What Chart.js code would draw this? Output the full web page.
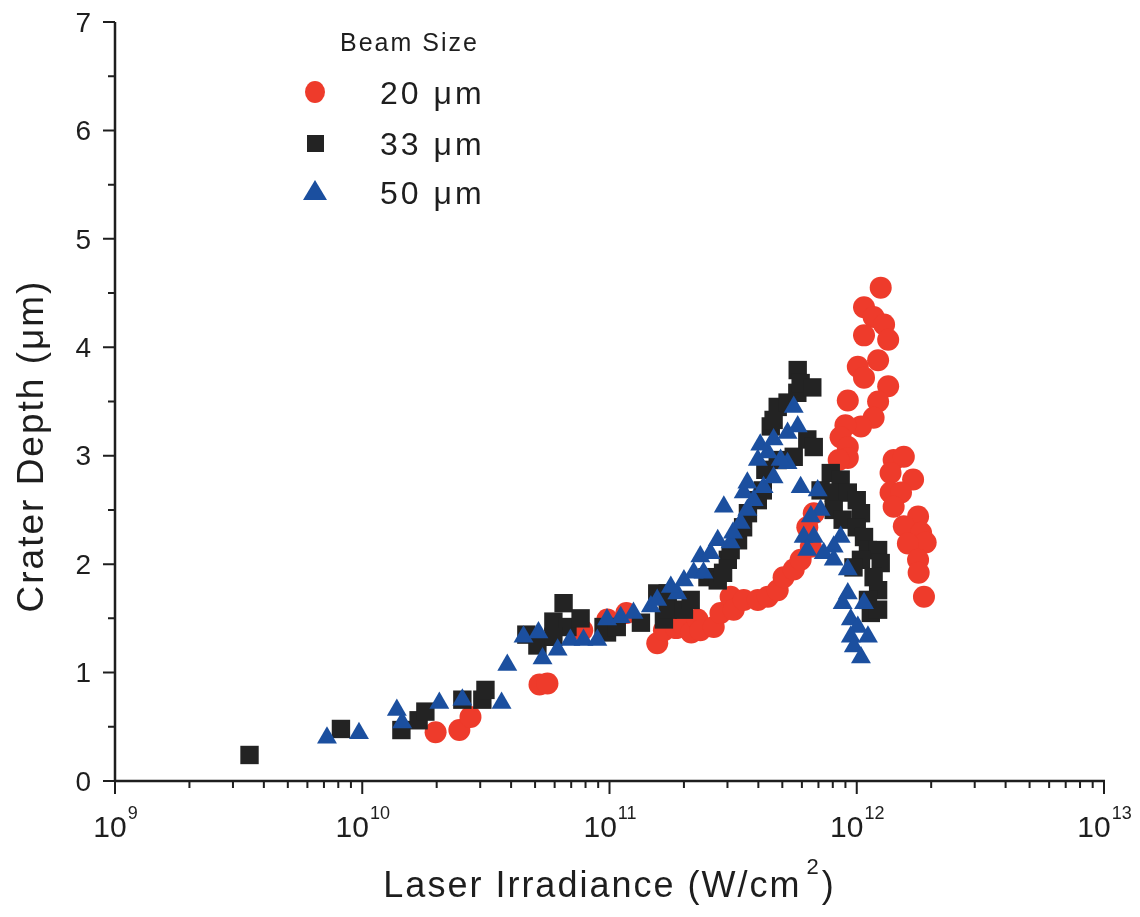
<!DOCTYPE html>
<html>
<head>
<meta charset="utf-8">
<script src="https://cdn.jsdelivr.net/npm/chart.js@4.4.1/dist/chart.umd.min.js"></script>
<style>
  html, body { margin: 0; padding: 0; background: #ffffff; }
  #wrap { width: 1140px; height: 917px; position: relative; }
</style>
</head>
<body>
<div id="wrap"><canvas id="c" width="1140" height="917"></canvas></div>
<script>
// Crater depth (µm) versus laser irradiance (W/cm²) for three beam sizes.
const beam20X = [1.98e10, 2.47e10, 2.74e10, 5.21e10, 5.61e10, 7.76e10, 9.8e10, 1.17e11, 1.56e11, 1.66e11,
  1.86e11, 1.94e11, 2.14e11, 2.27e11, 2.33e11, 2.64e11, 2.81e11, 3.09e11, 3.18e11, 3.49e11,
  3.98e11, 4.37e11, 4.79e11, 5.06e11, 5.56e11, 5.93e11, 6.52e11, 6.31e11, 6.70e11,
  1.25e12, 1.07e12, 1.17e12, 1.29e12, 1.07e12, 1.34e12, 1.22e12, 1.01e12, 1.07e12, 1.34e12,
  1.22e12, 9.2e11, 1.17e12, 1.04e12, 9.0e11, 8.6e11, 9.2e11, 9.2e11, 8.45e11,
  1.41e12, 1.55e12, 1.37e12, 1.69e12, 1.37e12, 1.51e12, 1.41e12, 1.77e12, 1.55e12, 1.82e12,
  1.90e12, 1.61e12, 1.77e12, 1.78e12, 1.87e12];
const beam20Y = [0.45, 0.47, 0.59, 0.89, 0.90, 1.39, 1.49, 1.55, 1.27, 1.39,
  1.41, 1.46, 1.37, 1.49, 1.39, 1.42, 1.55, 1.70, 1.58, 1.67,
  1.67, 1.70, 1.76, 1.88, 1.95, 2.04, 2.16, 2.34, 2.47,
  4.55, 4.37, 4.28, 4.21, 4.11, 4.07, 3.88, 3.82, 3.72, 3.64,
  3.50, 3.51, 3.35, 3.27, 3.28, 3.17, 3.08, 2.98, 2.96,
  2.96, 2.99, 2.84, 2.78, 2.66, 2.66, 2.53, 2.44, 2.35, 2.29,
  2.20, 2.19, 2.04, 1.92, 1.70];

const beam33X = [3.5e9, 8.2e9, 1.44e10, 1.69e10, 1.80e10, 2.54e10, 3.06e10, 3.15e10, 4.61e10, 5.11e10,
  5.93e10, 6.52e10, 6.76e10, 7.64e10, 5.93e10, 9.46e10, 9.77e10, 1.07e11, 1.34e11, 1.56e11,
  1.72e11, 1.66e11, 1.72e11, 2.0e11, 2.13e11, 2.49e11, 2.74e11, 2.88e11, 3.01e11, 3.09e11,
  3.31e11, 3.47e11, 3.63e11, 3.98e11, 4.17e11, 4.27e11, 4.79e11, 5.56e11, 4.49e11, 4.61e11,
  4.79e11, 5.25e11, 5.75e11, 5.77e11, 5.93e11, 6.61e11, 6.31e11, 6.70e11,
  7.85e11, 8.61e11, 7.14e11, 8.07e11, 9.2e11, 1.0e12, 8.07e11, 1.04e12, 8.77e11, 1.0e12,
  1.07e12, 1.11e12, 1.22e12, 1.04e12, 1.25e12, 9.7e11, 1.17e12, 1.22e12, 1.11e12, 1.14e12, 1.22e12];
const beam33Y = [0.24, 0.48, 0.47, 0.56, 0.64, 0.75, 0.75, 0.84, 1.35, 1.25,
  1.47, 1.64, 1.42, 1.50, 1.33, 1.42, 1.37, 1.42, 1.46, 1.73,
  1.73, 1.49, 1.58, 1.58, 1.67, 1.88, 1.85, 1.92, 2.04, 2.13,
  2.22, 2.34, 2.47, 2.59, 2.68, 2.87, 2.96, 2.99, 3.27, 3.33,
  3.45, 3.49, 3.58, 3.79, 3.67, 3.63, 3.15, 3.08,
  2.84, 2.78, 2.68, 2.66, 2.66, 2.59, 2.50, 2.47, 2.41, 2.34,
  2.25, 2.13, 2.13, 2.04, 2.01, 1.97, 1.88, 1.76, 1.67, 1.55, 1.58];

const beam50X = [7.2e9, 9.7e9, 1.38e10, 1.45e10, 2.05e10, 2.54e10, 3.66e10, 3.86e10, 4.49e10, 5.16e10,
  5.36e10, 6.17e10, 6.95e10, 7.85e10, 8.93e10, 9.77e10, 1.11e11, 1.25e11, 1.47e11, 1.56e11,
  1.88e11, 1.77e11, 2.0e11, 2.19e11, 2.40e11, 2.33e11, 2.56e11, 2.74e11, 3.09e11, 3.16e11,
  3.39e11, 2.90e11, 3.61e11, 3.83e11, 3.49e11, 3.61e11, 4.20e11, 4.61e11, 3.98e11, 5.25e11,
  4.92e11, 4.37e11, 4.07e11, 4.61e11, 5.25e11, 5.77e11, 5.56e11, 5.93e11,
  6.95e11, 7.14e11, 6.52e11, 6.10e11, 6.70e11, 8.61e11, 8.07e11, 6.31e11, 7.35e11, 8.07e11,
  9.2e11, 9.2e11, 8.77e11, 1.07e12, 9.46e11, 1.01e12, 9.46e11, 1.11e12, 9.73e11, 1.04e12];
const beam50Y = [0.40, 0.44, 0.655, 0.54, 0.72, 0.75, 0.72, 1.07, 1.33, 1.37,
  1.13, 1.21, 1.30, 1.30, 1.30, 1.49, 1.51, 1.55, 1.61, 1.67,
  1.73, 1.79, 1.85, 1.92, 1.92, 2.07, 2.10, 2.22, 2.20, 2.29,
  2.38, 2.53, 2.50, 2.59, 2.66, 2.75, 2.71, 2.80, 2.96, 2.93,
  2.96, 3.03, 3.10, 3.15, 3.21, 3.27, 3.45, 2.71,
  2.68, 2.50, 2.44, 2.25, 2.25, 2.25, 2.16, 2.13, 2.10, 2.04,
  1.95, 1.73, 1.64, 1.64, 1.49, 1.42, 1.33, 1.33, 1.24, 1.14];

const seriesLabels = ['20 μm', '33 μm', '50 μm'];
const legendTitle = 'Beam Size';
const xDecadeExponents = [9, 10, 11, 12, 13];
const xMinorMultipliers = [2, 3, 4, 5, 6, 7, 8, 9];
const yTickValues = [0, 1, 2, 3, 4, 5, 6, 7];
const yMinorValues = [0.5, 1.5, 2.5, 3.5, 4.5, 5.5, 6.5];
const xTitle = 'Laser Irradiance (W/cm';
const xTitleSup = '2';
const yTitle = 'Crater Depth (μm)';

const RED = '#ee3b2b';
const BLACK = '#232323';
const BLUE = '#1b4f9f';
const INK = '#1e1e1e';
const FONT = '"Liberation Sans", Arial, sans-serif';

function toPoints(xs, ys) { return xs.map((x, i) => ({ x: x, y: ys[i] })); }

const datasets = [
  { label: seriesLabels[0], data: toPoints(beam20X, beam20Y), pointStyle: 'circle', pointRadius: 11,
    backgroundColor: RED, borderColor: RED, borderWidth: 0, order: 3 },
  { label: seriesLabels[1], data: toPoints(beam33X, beam33Y), pointStyle: 'rect', pointRadius: 13,
    backgroundColor: BLACK, borderColor: BLACK, borderWidth: 0, order: 2 },
  { label: seriesLabels[2], data: toPoints(beam50X, beam50Y), pointStyle: 'triangle', pointRadius: 11.5,
    backgroundColor: BLUE, borderColor: BLUE, borderWidth: 0, order: 1 }
];

function setSpacing(ctx, px) { if ('letterSpacing' in ctx) ctx.letterSpacing = px + 'px'; }

// Axis lines, tick marks, tick labels, titles and the in-plot legend.
const axesPlugin = {
  id: 'axesDecor',
  afterDraw(chart) {
    const ctx = chart.ctx;
    const xs = chart.scales.x, ys = chart.scales.y;
    const left = chart.chartArea.left, right = chart.chartArea.right;
    const top = chart.chartArea.top, bottom = chart.chartArea.bottom;
    ctx.save();
    ctx.strokeStyle = INK;
    ctx.fillStyle = INK;
    ctx.lineCap = 'butt';

    // axis lines
    ctx.lineWidth = 2.5;
    ctx.beginPath();
    ctx.moveTo(left, top);
    ctx.lineTo(left, bottom + 1);
    ctx.moveTo(left - 1, bottom);
    ctx.lineTo(right + 1, bottom);
    ctx.stroke();

    // y ticks
    ctx.lineWidth = 2;
    ctx.beginPath();
    yTickValues.forEach(v => { const p = ys.getPixelForValue(v); ctx.moveTo(left - 12, p); ctx.lineTo(left, p); });
    yMinorValues.forEach(v => { const p = ys.getPixelForValue(v); ctx.moveTo(left - 7, p); ctx.lineTo(left, p); });
    ctx.stroke();
    ctx.font = '28px ' + FONT;
    ctx.textAlign = 'right';
    ctx.textBaseline = 'middle';
    yTickValues.forEach(v => ctx.fillText(String(v), left - 24, ys.getPixelForValue(v) + 2));

    // x ticks
    ctx.beginPath();
    xDecadeExponents.forEach((e, i) => {
      const p = xs.getPixelForValue(Math.pow(10, e));
      ctx.moveTo(p, bottom); ctx.lineTo(p, bottom + 13);
      if (i < xDecadeExponents.length - 1) {
        xMinorMultipliers.forEach(m => {
          const q = xs.getPixelForValue(m * Math.pow(10, e));
          ctx.moveTo(q, bottom); ctx.lineTo(q, bottom + 7);
        });
      }
    });
    ctx.stroke();

    // x tick labels: 10 with raised exponent
    ctx.textBaseline = 'alphabetic';
    ctx.textAlign = 'left';
    xDecadeExponents.forEach(e => {
      const p = xs.getPixelForValue(Math.pow(10, e));
      ctx.font = '30px ' + FONT;
      const wBase = ctx.measureText('10').width;
      ctx.font = '18px ' + FONT;
      const wExp = ctx.measureText(String(e)).width;
      const x0 = p - (wBase + wExp) / 2;
      ctx.font = '30px ' + FONT;
      ctx.fillText('10', x0, 837);
      ctx.font = '18px ' + FONT;
      ctx.fillText(String(e), x0 + wBase + 1, 819);
    });

    // x title
    setSpacing(ctx, 2);
    ctx.font = '36px ' + FONT;
    const wT = ctx.measureText(xTitle).width;
    ctx.font = '22px ' + FONT;
    const wS = ctx.measureText(xTitleSup).width;
    ctx.font = '36px ' + FONT;
    const wP = ctx.measureText(')').width;
    const cx = (left + right) / 2;
    const tx = cx - (wT + wS + 6 + wP) / 2;
    ctx.fillText(xTitle, tx, 897);
    ctx.font = '22px ' + FONT;
    ctx.fillText(xTitleSup, tx + wT + 5, 874);
    ctx.font = '36px ' + FONT;
    ctx.fillText(')', tx + wT + wS + 6, 897);

    // y title
    ctx.save();
    ctx.translate(43, 446);
    ctx.rotate(-Math.PI / 2);
    ctx.textAlign = 'center';
    ctx.font = '37px ' + FONT;
    ctx.fillText(yTitle, 0, 0);
    ctx.restore();

    // legend
    ctx.textAlign = 'left';
    setSpacing(ctx, 2);
    ctx.font = '25px ' + FONT;
    ctx.fillText(legendTitle, 340, 51);
    const rowY = [92, 143, 192];
    datasets.forEach((ds, i) => {
      ctx.fillStyle = ds.backgroundColor;
      const y = rowY[i];
      ctx.beginPath();
      if (ds.pointStyle === 'circle') {
        ctx.ellipse(315, y, 10, 11, 0, 0, Math.PI * 2);
      } else if (ds.pointStyle === 'rect') {
        ctx.rect(307, y - 8, 17, 17);
      } else {
        ctx.moveTo(315, y - 12); ctx.lineTo(327, y + 8); ctx.lineTo(303, y + 8); ctx.closePath();
      }
      ctx.fill();
      ctx.fillStyle = INK;
      setSpacing(ctx, 3);
      ctx.font = '32px ' + FONT;
      ctx.fillText(ds.label, 380, y + 12);
    });
    setSpacing(ctx, 0);
    ctx.restore();
  }
};

new Chart(document.getElementById('c'), {
  type: 'scatter',
  data: { datasets: datasets },
  options: {
    responsive: false,
    animation: false,
    layout: { padding: { left: 0, right: 36, top: 22, bottom: 0 } },
    plugins: { legend: { display: false }, tooltip: { enabled: false } },
    scales: {
      x: {
        type: 'logarithmic', min: 1e9, max: 1e13,
        grid: { display: false }, border: { display: false },
        ticks: { display: false },
        afterFit(scale) { scale.height = 136; }
      },
      y: {
        type: 'linear', min: 0, max: 7,
        grid: { display: false }, border: { display: false },
        ticks: { display: false },
        afterFit(scale) { scale.width = 115; }
      }
    }
  },
  plugins: [axesPlugin]
});
</script>
</body>
</html>
